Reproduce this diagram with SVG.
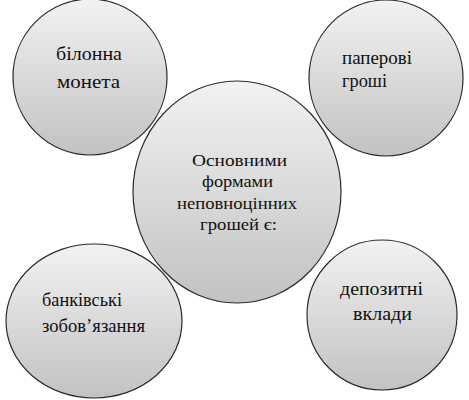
<svg xmlns="http://www.w3.org/2000/svg" width="469" height="400" viewBox="0 0 469 400">
<defs>
<linearGradient id="g" x1="0" y1="0" x2="0" y2="1">
<stop offset="0" stop-color="#f2f2f2"/>
<stop offset="1" stop-color="#c2c2c2"/>
</linearGradient>
</defs>
<style>
.c{fill:url(#g);stroke:#2a2a2a;stroke-width:1.2}
text{font-family:"Liberation Serif","Times New Roman",serif;fill:#111}
.t{font-size:19px}
.m{font-size:17px}
</style>
<rect width="469" height="400" fill="#fff"/>
<g id="connectors"/>
<g id="node-bilonna">
<ellipse class="c" cx="90" cy="77" rx="77" ry="78"/>
<text class="t" x="56" y="60" textLength="66" lengthAdjust="spacingAndGlyphs">білонна</text>
<text class="t" x="57" y="88" textLength="63" lengthAdjust="spacingAndGlyphs">монета</text>
</g>
<g id="node-paperovi">
<ellipse class="c" cx="386" cy="78" rx="77" ry="78"/>
<text class="t" x="342" y="64" textLength="70" lengthAdjust="spacingAndGlyphs">паперові</text>
<text class="t" x="342" y="87" textLength="45" lengthAdjust="spacingAndGlyphs">гроші</text>
</g>
<g id="node-bankivski">
<ellipse class="c" cx="94" cy="321" rx="88" ry="77"/>
<text class="t" x="42" y="306" textLength="80" lengthAdjust="spacingAndGlyphs">банківські</text>
<text class="t" x="42" y="332" textLength="103" lengthAdjust="spacingAndGlyphs">зобов’язання</text>
</g>
<g id="node-depozytni">
<ellipse class="c" cx="382" cy="315" rx="75" ry="75"/>
<text class="t" x="340" y="295" textLength="83" lengthAdjust="spacingAndGlyphs">депозитні</text>
<text class="t" x="353" y="320" textLength="59" lengthAdjust="spacingAndGlyphs">вклади</text>
</g>
<g id="node-center">
<ellipse class="c" cx="237" cy="192" rx="104" ry="111"/>
<text class="m" x="192" y="166" textLength="95" lengthAdjust="spacingAndGlyphs">Основними</text>
<text class="m" x="202" y="187" textLength="71" lengthAdjust="spacingAndGlyphs">формами</text>
<text class="m" x="177" y="209" textLength="120" lengthAdjust="spacingAndGlyphs">неповноцінних</text>
<text class="m" x="200" y="230" textLength="77" lengthAdjust="spacingAndGlyphs">грошей є:</text>
</g>
</svg>
